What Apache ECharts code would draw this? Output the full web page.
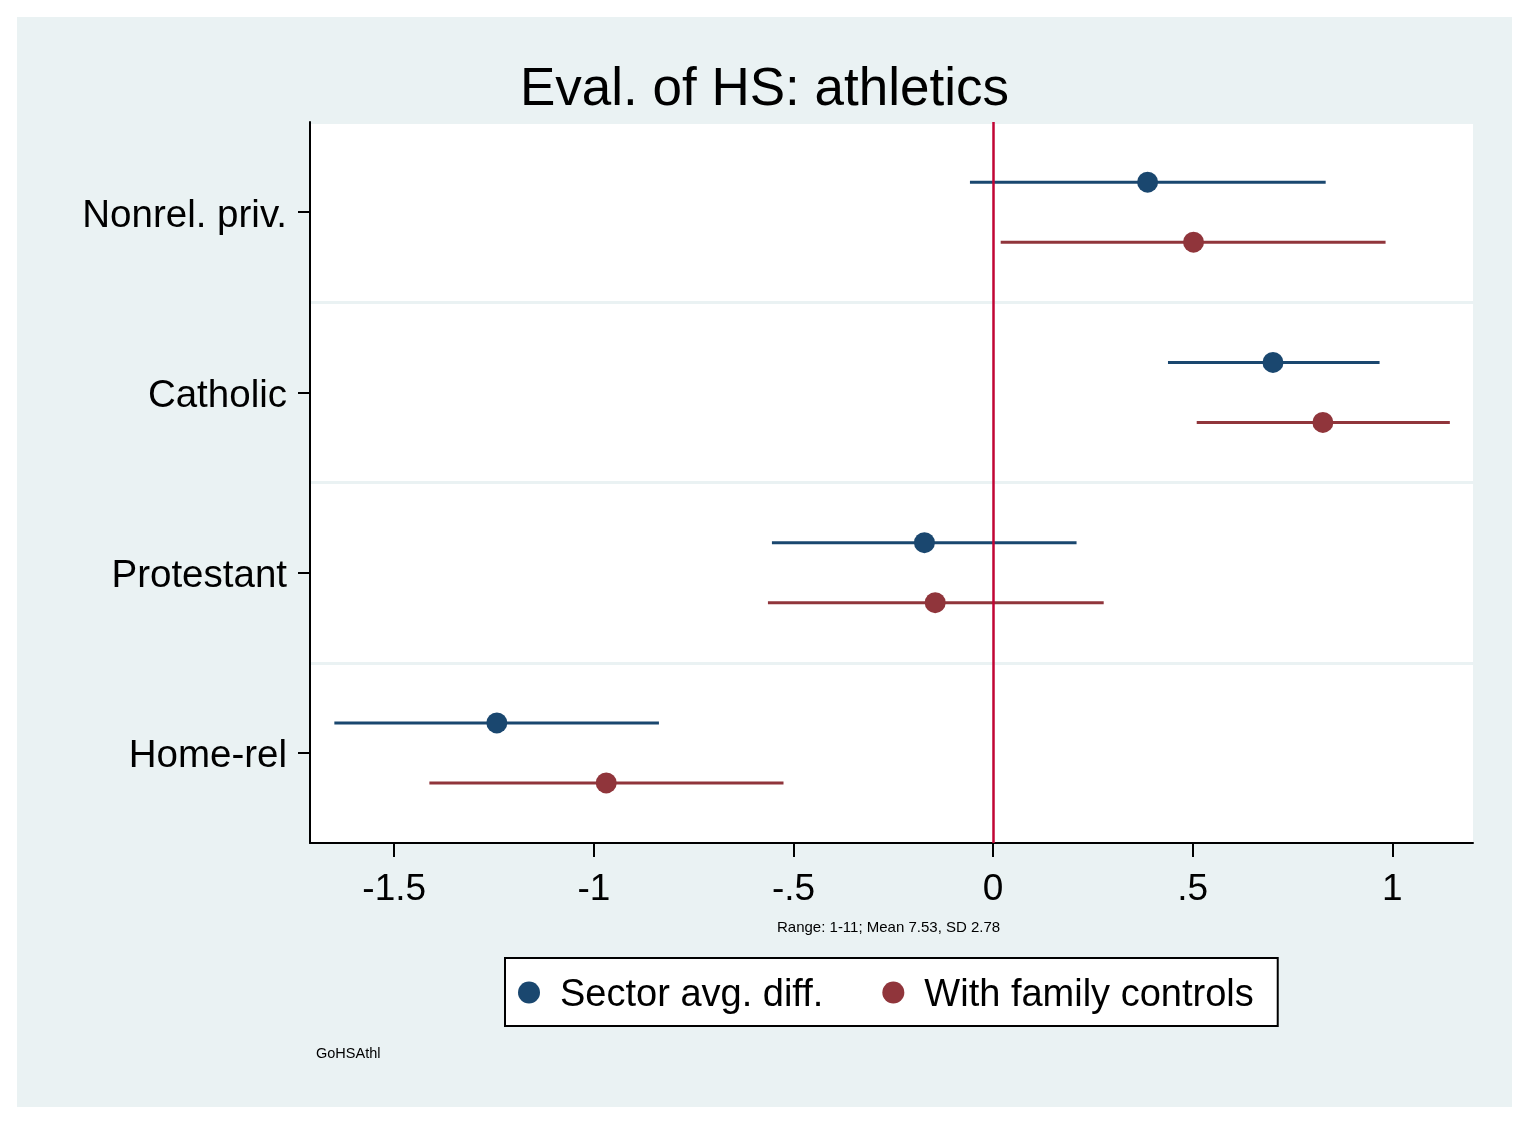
<!DOCTYPE html>
<html><head><meta charset="utf-8">
<script src="https://cdn.jsdelivr.net/npm/echarts@6/dist/echarts.min.js"></script>
<style>
html,body{margin:0;padding:0;background:#ffffff;width:1530px;height:1125px;overflow:hidden;}
#c{position:absolute;left:17px;top:17px;width:1495px;height:1090px;}
</style></head>
<body><div id="c"></div>
<script>
const categories = ['Nonrel. priv.', 'Catholic', 'Protestant', 'Home-rel'];
const sectorEst = [0.387, 0.701, -0.172, -1.243];
const sectorLo  = [-0.058, 0.438, -0.554, -1.650];
const sectorHi  = [0.833, 0.968, 0.209, -0.837];
const familyEst = [0.502, 0.826, -0.145, -0.969];
const familyLo  = [0.019, 0.510, -0.564, -1.412];
const familyHi  = [0.983, 1.144, 0.277, -0.525];
const xTickValues = [-1.5, -1, -0.5, 0, 0.5, 1];
const xTickLabels = ['-1.5', '-1', '-.5', '0', '.5', '1'];
const seriesNames = ['Sector avg. diff.', 'With family controls'];

const FONT = 'Liberation Sans, Arial, sans-serif';
const BLUE = '#1a476f', RED = '#90353b';

function mkData(est, lo, hi){
  return est.map((v,i)=>[v, i, lo[i], hi[i]]);
}
function mkRender(offset, color){
  return function(params, api){
    const ci = api.value(1);
    const p = api.coord([api.value(0), ci]);
    const a = api.coord([api.value(2), ci]);
    const b = api.coord([api.value(3), ci]);
    const y = p[1] + offset;
    return {type:'group', children:[
      {type:'line', shape:{x1:a[0], y1:y, x2:b[0], y2:y}, style:{stroke:color, lineWidth:3}},
      {type:'circle', shape:{cx:p[0], cy:y, r:10.5}, style:{fill:color}}
    ]};
  };
}

const chart = echarts.init(document.getElementById('c'), null, {renderer:'canvas'});
chart.setOption({
  backgroundColor:'#eaf2f3',
  animation:false,
  title:{text:'Eval. of HS: athletics', left:'center', top:42,
    textStyle:{fontFamily:FONT, fontSize:53, fontWeight:'normal', color:'#000'}},
  grid:{left:293, right:39, top:105, bottom:264, show:true, backgroundColor:'#ffffff', borderWidth:0},
  xAxis:{type:'value', min:-1.711, max:1.202,
    axisLine:{show:true, onZero:false, lineStyle:{color:'#000', width:2}},
    axisTick:{show:true, length:14, lineStyle:{color:'#000', width:2}, customValues:xTickValues},
    axisLabel:{fontFamily:FONT, fontSize:37, color:'#000', margin:28, customValues:xTickValues,
      formatter:(v)=>{const i=xTickValues.indexOf(v); return i>=0?xTickLabels[i]:'';}},
    splitLine:{show:false}},
  yAxis:{type:'category', data:categories, inverse:true, boundaryGap:true,
    axisLine:{show:true, onZero:false, lineStyle:{color:'#000', width:2}},
    axisTick:{show:true, alignWithLabel:true, length:12, lineStyle:{color:'#000', width:2}},
    axisLabel:{fontFamily:FONT, fontSize:38.5, color:'#000', margin:23,
      formatter:(v)=>'{a|'+v+'}',
      rich:{a:{fontFamily:FONT, fontSize:38.5, color:'#000', padding:[8,0,0,0]}}},
    splitLine:{show:true, lineStyle:{color:'#eaf2f3', width:3}}},
  legend:{left:488, top:941, orient:'horizontal',
    data:seriesNames.map(n=>({name:n, icon:'circle'})),
    itemWidth:22, itemHeight:22, itemGap:59,
    backgroundColor:'#ffffff', borderColor:'#000', borderWidth:2, borderRadius:0,
    padding:[19,24,11,13],
    formatter:(n)=>'{a|'+n+'}',
    textStyle:{fontFamily:FONT, fontSize:38, color:'#000',
      rich:{a:{fontFamily:FONT, fontSize:38, color:'#000', padding:[7,0,0,15]}}}},
  graphic:[
    {type:'text', left:760, top:903, style:{text:'Range: 1-11; Mean 7.53, SD 2.78', font:'15px '+FONT, fill:'#000'}},
    {type:'text', left:299, top:1029, style:{text:'GoHSAthl', font:'14.5px '+FONT, fill:'#000'}}
  ],
  series:[
    {name:seriesNames[0], type:'custom', data:mkData(sectorEst, sectorLo, sectorHi),
      encode:{x:[0,2,3], y:1}, itemStyle:{color:BLUE}, renderItem:mkRender(-30, BLUE), z:3,
      markLine:{silent:true, symbol:'none', label:{show:false},
        lineStyle:{color:'#c10534', width:2.5, type:'solid'}, data:[{xAxis:0}]}},
    {name:seriesNames[1], type:'custom', data:mkData(familyEst, familyLo, familyHi),
      encode:{x:[0,2,3], y:1}, itemStyle:{color:RED}, renderItem:mkRender(30, RED), z:3}
  ]
});
</script></body></html>
